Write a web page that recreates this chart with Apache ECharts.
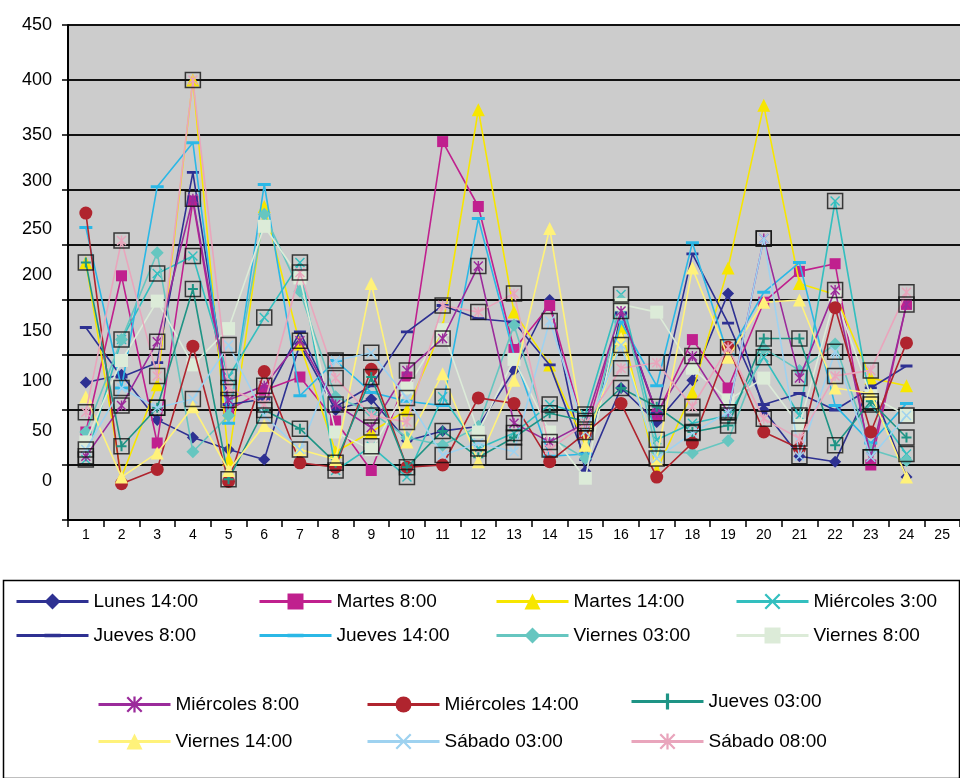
<!DOCTYPE html>
<html>
<head>
<meta charset="utf-8">
<script src="https://cdn.jsdelivr.net/npm/echarts@6/dist/echarts.min.js"></script>
<style>
  html, body { margin: 0; padding: 0; background: #ffffff; }
  #chart { width: 960px; height: 778px; }
</style>
</head>
<body>
<div id="chart"></div>
<script>
// Hour-of-day categories along the x axis
const categories = ['1','2','3','4','5','6','7','8','9','10','11','12','13','14','15','16','17','18','19','20','21','22','23','24','25'];
const yTickLabels = ['0','50','100','150','200','250','300','350','400','450'];

// Readings per time slot (24 values each)
const lunes14     = [125,132,91,75,64,55,160,100,110,72,81,85,136,200,44,120,89,127,206,100,58,53,123,39];
const martes8     = [80,222,70,290,100,118,130,90,45,130,344,285,155,195,79,190,95,164,120,198,226,233,50,196];
const martes14    = [234,39,123,400,55,285,160,62,80,100,175,373,189,141,68,175,45,116,229,377,215,205,129,122];
const miercoles3  = [55,164,224,240,130,184,234,45,67,39,112,65,79,105,96,205,73,88,95,148,95,290,105,60];
const jueves8     = [175,130,143,316,105,110,171,103,122,171,195,183,180,141,55,188,97,242,179,105,115,100,120,140];
const jueves14    = [266,120,303,343,88,305,113,145,116,108,104,274,150,58,60,180,122,252,150,207,234,104,70,106];
const viernes3    = [80,164,243,62,95,278,208,112,98,75,68,85,177,75,56,200,62,61,72,156,136,160,64,54];
const viernes8    = [71,145,199,141,174,267,220,80,64,120,173,80,146,80,38,196,189,138,109,129,86,203,113,95];
const miercoles8  = [58,104,162,292,109,122,163,105,84,136,165,231,88,71,88,190,97,149,98,256,129,209,57,196];
const miercoles14 = [279,33,46,158,35,135,52,48,137,48,50,111,106,53,79,106,39,70,157,80,65,193,80,161];
const jueves3     = [234,67,102,210,37,100,83,52,130,48,81,57,75,97,90,120,103,80,86,165,165,68,108,75];
const viernes14   = [112,39,61,103,45,86,64,55,215,71,133,53,127,265,68,165,55,229,148,198,200,120,115,39];
const sabado3     = [64,120,102,110,159,95,64,145,152,111,59,70,62,181,80,159,56,79,98,256,58,153,57,95];
const sabado8     = [98,254,131,400,120,105,225,129,95,89,195,189,206,64,88,138,143,103,157,92,74,131,136,207];

const seriesNames = ['Lunes 14:00','Martes 8:00','Martes 14:00','Miércoles 3:00',
  'Jueves 8:00','Jueves 14:00','Viernes 03:00','Viernes 8:00',
  'Miércoles 8:00','Miércoles 14:00','Jueves 03:00',
  'Viernes 14:00','Sábado 03:00','Sábado 08:00'];
const seriesValues = [lunes14, martes8, martes14, miercoles3, jueves8, jueves14, viernes3, viernes8,
  miercoles8, miercoles14, jueves3, viernes14, sabado3, sabado8];

// Marker glyphs
const X_PATH = 'path://M0,1L1,0L5,4L9,0L10,1L6,5L10,9L9,10L5,6L1,10L0,9L4,5Z';
const PLUS_PATH = 'path://M4,0H6V4H10V6H6V10H4V6H0V4H4Z';
const STAR_PATH = X_PATH + 'M4.3,0H5.7V10H4.3Z';
// flat bar; the two specks at the corners keep its box square so it stays thin when scaled
const DASH_PATH = 'path://M0,0L0.01,0L0,0.01Z M12,12L11.99,12L12,11.99Z M0,4.6H12V7.4H0Z';

const styles = [
  { color: '#2e3192', symbol: 'diamond', size: 12 },
  { color: '#c0208e', symbol: 'rect', size: 11 },
  { color: '#f7e600', symbol: 'triangle', size: 13 },
  { color: '#33bfbf', symbol: X_PATH, size: 10, boxed: true },
  { color: '#2e3192', symbol: DASH_PATH, size: 12 },
  { color: '#2bb8e6', symbol: DASH_PATH, size: 13 },
  { color: '#66c6c0', symbol: 'diamond', size: 13 },
  { color: '#dcebd8', symbol: 'rect', size: 13 },
  { color: '#9b2b9b', symbol: STAR_PATH, size: 10, boxed: true },
  { color: '#b0242e', symbol: 'circle', size: 13 },
  { color: '#1e9485', symbol: PLUS_PATH, size: 10, boxed: true },
  { color: '#fff27a', symbol: 'triangle', size: 13 },
  { color: '#9ed2f0', symbol: X_PATH, size: 10, boxed: true },
  { color: '#e9a5bc', symbol: STAR_PATH, size: 10, boxed: true }
];

// Legend placement (left, top) for each entry
const legendSlots = [
  [15, 592], [258, 592], [495, 592], [735, 592],
  [15, 626], [258, 626], [495, 626], [735, 626],
  [97, 695], [366, 695], [630, 692],
  [97, 732], [366, 732], [630, 732]
];

// Vertical nudges of the value-axis labels
const labelLift = { 0: 39, 50: 34, 100: 29, 150: 24, 200: 25, 250: 16, 300: 9, 350: 0, 400: 0, 450: 0 };
const rich = {};
yTickLabels.forEach(t => {
  rich['v' + t] = { fontSize: 18, fontFamily: 'Liberation Sans', color: '#000', padding: [0, 0, labelLift[t] * 2, 0] };
});

const series = [];
seriesNames.forEach((name, i) => {
  const st = styles[i];
  series.push({
    name: name,
    type: 'line',
    data: seriesValues[i],
    symbol: st.symbol,
    symbolSize: st.size,
    symbolKeepAspect: true,
    showAllSymbol: true,
    lineStyle: { color: st.color, width: 1.6 },
    itemStyle: { color: st.color },
    z: 2 + i * 0.01
  });
  if (st.boxed) {
    series.push({
      type: 'scatter',
      data: seriesValues[i],
      symbol: 'rect',
      symbolSize: 15,
      itemStyle: { color: 'rgba(0,0,0,0)', borderColor: '#111', borderWidth: 1.5 },
      silent: true,
      z: 3
    });
  }
});

const legends = seriesNames.map((name, i) => ({
  data: [name],
  left: legendSlots[i][0],
  top: legendSlots[i][1],
  padding: 0,
  itemWidth: 72,
  itemHeight: 20,
  selectedMode: false,
  lineStyle: { width: 3 },
  textStyle: { fontSize: 19, fontFamily: 'Liberation Sans', color: '#000' }
}));

const chart = echarts.init(document.getElementById('chart'), null, { renderer: 'canvas' });
chart.setOption({
  animation: false,
  backgroundColor: '#ffffff',
  grid: {
    left: 68, top: 25, width: 897, height: 495,
    show: true, backgroundColor: '#cccccc', borderWidth: 0
  },
  xAxis: {
    type: 'category',
    data: categories,
    boundaryGap: true,
    axisLine: { lineStyle: { color: '#000', width: 2 } },
    axisTick: { show: true, length: 7, lineStyle: { color: '#000', width: 1.5 } },
    axisLabel: { color: '#000', fontSize: 14, fontFamily: 'Liberation Sans', margin: 8 },
    splitLine: { show: false }
  },
  yAxis: {
    type: 'value',
    min: 0, max: 450, interval: 50,
    axisLine: { show: true, lineStyle: { color: '#000', width: 2 } },
    axisTick: { show: true, length: 6, lineStyle: { color: '#000', width: 1.5 } },
    axisLabel: {
      margin: 16,
      formatter: v => '{v' + v + '|' + yTickLabels[v / 50] + '}',
      rich: rich
    },
    splitLine: { show: true, lineStyle: { color: '#111', width: 2 } }
  },
  legend: legends,
  graphic: [{
    type: 'rect',
    left: 1, top: 578,
    shape: { width: 956, height: 198 },
    style: { fill: 'none', stroke: '#000', lineWidth: 1.5 },
    z: -1
  }],
  series: series
});
</script>
</body>
</html>
